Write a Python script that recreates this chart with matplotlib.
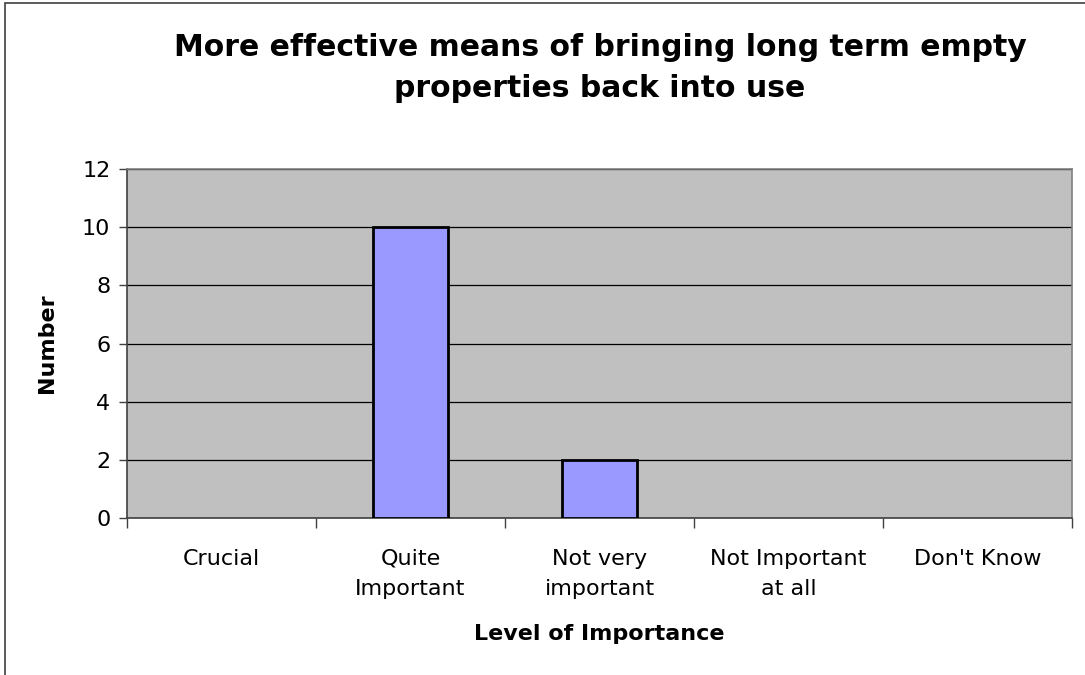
import numpy as np
import matplotlib.pyplot as plt
from matplotlib.patches import Rectangle

categories = ["Crucial", "Quite\nImportant", "Not very\nimportant", "Not Important\nat all", "Don't Know"]
counts = [0, 10, 2, 0, 0]

plt.rcParams['font.family'] = ['DejaVu Sans']

fig = plt.figure(figsize=(10.85, 6.75), dpi=100)
ax = fig.add_axes([127/1085, 1-518/675, (1072-127)/1085, (518-169)/675])

# outer chart border (clipped on right/bottom like the original)
fig.patches.append(Rectangle((5/1085, -0.1), 1.2, 1 - 3/675 + 0.1,
                             transform=fig.transFigure, fill=False,
                             edgecolor='#404040', linewidth=1.2))

x = np.arange(len(categories))
ax.set_facecolor('#C0C0C0')
# empty categories get no outline, as in the original
edge_widths = [2 if c > 0 else 0 for c in counts]
ax.bar(x, counts, width=0.4, color='#9999FF', edgecolor='black',
       linewidth=edge_widths, zorder=3)

ax.set_xlim(-0.5, len(categories) - 0.5)
ax.set_ylim(0, 12)
ax.set_yticks(range(0, 13, 2))
ax.yaxis.grid(True, color='black', linewidth=0.9)
ax.set_axisbelow(True)

ax.set_xticks(x)
ax.set_xticklabels(categories, fontsize=16, linespacing=1.65)
ax.tick_params(axis='x', which='major', length=0, pad=22)
ax.set_xticks(np.arange(-0.5, len(categories), 1), minor=True)
ax.tick_params(axis='x', which='minor', length=7, width=1, color='#404040')
ax.tick_params(axis='y', labelsize=16, length=6, width=1, color='#404040', pad=6)

for s in ['top', 'right']:
    ax.spines[s].set_color('#808080')
    ax.spines[s].set_linewidth(1.2)
for s in ['left', 'bottom']:
    ax.spines[s].set_color('#404040')
    ax.spines[s].set_linewidth(1.2)

ax.set_xlabel("Level of Importance", fontsize=16, fontweight='bold', labelpad=18)
ax.set_ylabel("Number", fontsize=16, fontweight='bold', labelpad=18)
fig.text(600/1085, 1-68/675, "More effective means of bringing long term empty\nproperties back into use",
         ha='center', va='center', fontsize=21.5, fontweight='bold', linespacing=1.55)

plt.savefig("out.png", dpi=100)
